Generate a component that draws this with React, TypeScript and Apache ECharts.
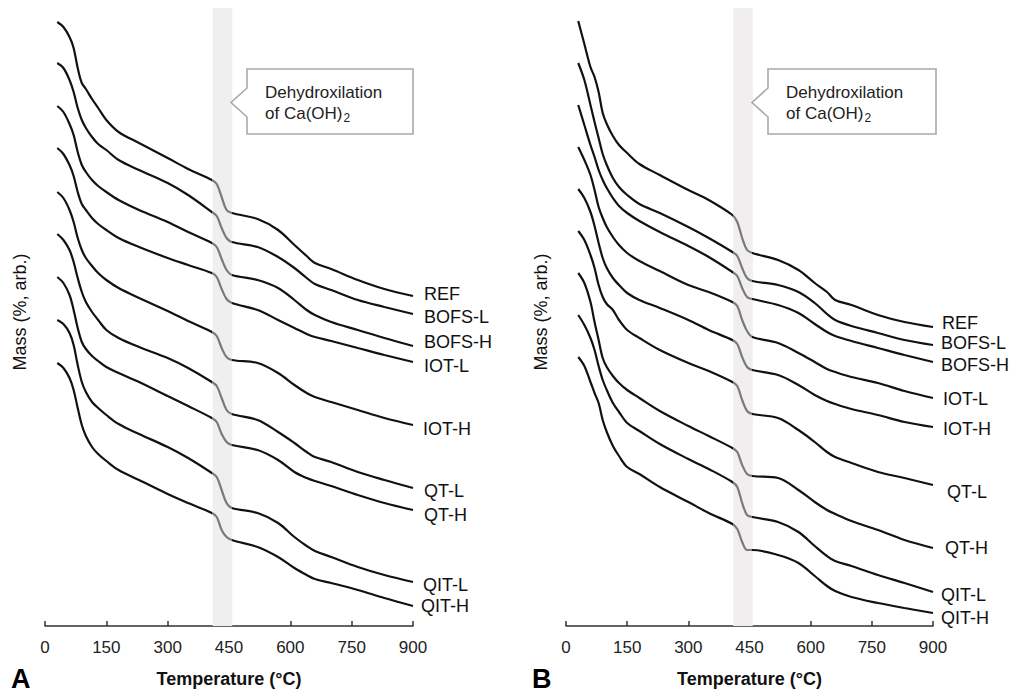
import React, { useEffect, useRef } from "react";
import * as echarts from "echarts";

// Temperature grid (°C) shared by every curve
const TEMPS = [30, 45, 60, 70, 80, 90, 100, 115, 130, 150, 180, 230, 300, 350, 408, 420, 432, 444, 457, 520, 570, 610, 640, 660, 700, 765, 830, 900];
const X_TICKS = [0, 150, 300, 450, 600, 750, 900];
const NAMES = ["REF", "BOFS-L", "BOFS-H", "IOT-L", "IOT-H", "QT-L", "QT-H", "QIT-L", "QIT-H"];
const BAND = [410, 458];

// Panel A — mass (arbitrary, vertically offset units)
const A_REF = [604, 599, 589, 578, 558, 543, 537, 527, 518, 506, 494, 483, 468, 457, 446, 442, 429, 416, 413, 407, 396, 381, 370, 363, 357, 346, 337, 330];
const A_BOFS_L = [563, 558, 546, 534, 518, 506, 498, 489, 482, 476, 466, 456, 443, 431, 414, 410, 398, 388, 384, 379, 369, 358, 348, 342, 336, 326, 319, 312];
const A_BOFS_H = [520, 514, 502, 491, 474, 461, 454, 446, 440, 434, 426, 416, 404, 394, 383, 379, 367, 356, 351, 346, 338, 326, 316, 311, 304, 296, 288, 280];
const A_IOT_L = [478, 472, 461, 450, 434, 422, 416, 408, 402, 396, 388, 379, 368, 361, 353, 349, 337, 327, 323, 316, 306, 298, 292, 289, 285, 278, 271, 264];
const A_IOT_H = [434, 428, 416, 404, 388, 376, 368, 360, 353, 346, 338, 328, 315, 305, 294, 290, 278, 269, 266, 263, 253, 241, 233, 229, 224, 216, 208, 201];
const A_QT_L = [392, 386, 376, 364, 348, 334, 324, 314, 306, 296, 288, 279, 268, 258, 244, 240, 228, 216, 212, 206, 194, 183, 174, 169, 164, 154, 146, 138];
const A_QT_H = [349, 343, 331, 316, 298, 284, 277, 270, 265, 259, 253, 244, 230, 220, 208, 204, 192, 184, 181, 176, 166, 154, 148, 145, 140, 131, 123, 116];
const A_QIT_L = [306, 302, 293, 281, 261, 244, 234, 224, 218, 211, 202, 192, 179, 168, 153, 149, 136, 123, 118, 113, 103, 89, 80, 75, 69, 59, 51, 44];
const A_QIT_H = [263, 258, 248, 236, 218, 201, 190, 179, 172, 165, 156, 146, 132, 123, 113, 109, 96, 89, 86, 79, 69, 58, 51, 47, 43, 36, 28, 20];

// Panel B
const B_REF = [605, 582, 559, 549, 534, 513, 502, 490, 481, 473, 462, 451, 436, 426, 411, 404, 388, 376, 373, 366, 356, 343, 334, 326, 321, 311, 304, 299];
const B_BOFS_L = [563, 546, 521, 504, 488, 472, 461, 448, 439, 431, 422, 413, 399, 388, 374, 370, 358, 348, 345, 341, 334, 323, 312, 306, 300, 293, 286, 281];
const B_BOFS_H = [521, 501, 481, 469, 456, 446, 438, 428, 420, 413, 405, 394, 380, 369, 354, 350, 338, 329, 327, 321, 313, 302, 294, 290, 285, 278, 271, 264];
const B_IOT_L = [479, 466, 451, 436, 419, 408, 399, 389, 381, 373, 365, 355, 341, 334, 324, 320, 306, 295, 289, 283, 273, 264, 257, 254, 249, 243, 235, 228];
const B_IOT_H = [437, 428, 414, 400, 383, 368, 358, 348, 341, 333, 326, 318, 306, 296, 286, 282, 269, 259, 256, 251, 241, 231, 225, 222, 217, 211, 204, 199];
const B_QT_L = [395, 386, 371, 358, 341, 329, 322, 316, 306, 296, 288, 276, 263, 255, 244, 240, 226, 215, 212, 208, 196, 184, 174, 169, 163, 154, 148, 141];
const B_QT_H = [353, 343, 324, 304, 286, 268, 259, 250, 243, 236, 228, 215, 200, 190, 178, 174, 161, 152, 150, 148, 136, 124, 116, 112, 105, 96, 86, 78];
const B_QIT_L = [311, 301, 288, 276, 260, 246, 236, 223, 214, 203, 195, 182, 167, 157, 144, 139, 123, 111, 109, 104, 94, 80, 70, 65, 60, 51, 43, 34];
const B_QIT_H = [269, 260, 244, 233, 223, 206, 194, 180, 170, 159, 152, 139, 124, 113, 102, 97, 84, 76, 76, 71, 63, 50, 40, 35, 29, 23, 18, 13];

const PANEL_A = [A_REF, A_BOFS_L, A_BOFS_H, A_IOT_L, A_IOT_H, A_QT_L, A_QT_H, A_QIT_L, A_QIT_H];
const PANEL_B = [B_REF, B_BOFS_L, B_BOFS_H, B_IOT_L, B_IOT_H, B_QT_L, B_QT_H, B_QIT_L, B_QIT_H];

// label placement (style, not data)
const LABEL_OFF_A: [number, number][] = [[11, -2], [11, 3], [11, -4], [11, 4], [10, 4], [11, 3], [11, 5], [10, 3], [8, 0]];
const LABEL_OFF_B: [number, number][] = [[9, -4], [8, -2], [8, 3], [10, 1], [10, 2], [14, 7], [12, 0], [8, 3], [8, 5]];

const FONT = "'Liberation Sans', Arial, Helvetica, sans-serif";
const INK = "#111";

export default function App() {
  const ref = useRef<HTMLDivElement>(null);

  useEffect(() => {
    if (!ref.current) return;
    const chart = echarts.init(ref.current, undefined, { renderer: "svg" });

    const makeSeries = (panel: number[][], idx: number, offs: [number, number][]) =>
      panel.map((vals, i) => ({
        type: "line",
        name: NAMES[i],
        xAxisIndex: idx,
        yAxisIndex: idx,
        data: TEMPS.map((t, k) => [t, vals[k]]),
        symbol: "none",
        showSymbol: false,
        smooth: 0.35,
        silent: true,
        z: 3,
        lineStyle: { width: 2.2 },
        endLabel: {
          show: true,
          formatter: "{a}",
          distance: 0,
          offset: offs[i],
          color: INK,
          fontSize: 18,
          fontFamily: FONT,
        },
      }));

    const bandSeries = (idx: number) => ({
      type: "line",
      xAxisIndex: idx,
      yAxisIndex: idx,
      data: [],
      silent: true,
      z: 1,
      markArea: {
        silent: true,
        itemStyle: { color: "#f0eeef" },
        data: [[{ xAxis: BAND[0] }, { xAxis: BAND[1] }]],
      },
    });

    const xAxis = (idx: number) => ({
      type: "value",
      gridIndex: idx,
      min: X_TICKS[0],
      max: X_TICKS[X_TICKS.length - 1],
      interval: 150,
      name: "Temperature (°C)",
      nameLocation: "middle",
      nameGap: 44,
      nameTextStyle: { fontSize: 18, fontWeight: "bold", color: INK, fontFamily: FONT },
      axisLine: { lineStyle: { color: "#333", width: 1.5 } },
      axisTick: { inside: true, length: 5, lineStyle: { color: "#333", width: 1.5 } },
      axisLabel: { fontSize: 17, color: "#222", margin: 13, fontFamily: FONT },
      splitLine: { show: false },
    });

    const yAxis = (idx: number) => ({
      type: "value",
      gridIndex: idx,
      min: 0,
      max: 618,
      show: false,
    });

    const seriesA = makeSeries(PANEL_A, 0, LABEL_OFF_A);
    const seriesB = makeSeries(PANEL_B, 1, LABEL_OFF_B);
    const curveIdx = [...seriesA, ...seriesB].map((_, i) => i + 2);

    const callout = (left: number, right: number, tip: number, textX: number) => [
      {
        type: "polygon",
        shape: {
          points: [
            [left, 69], [right, 69], [right, 134], [left, 134],
            [left, 117], [tip, 102.5], [left, 88],
          ],
        },
        style: { fill: "#fff", stroke: "#a9a9a9", lineWidth: 1.6 },
        z: 10,
      },
      {
        type: "text",
        x: textX,
        y: 92,
        style: { text: "Dehydroxilation", fontSize: 17, fill: "#222", fontFamily: FONT, align: "left", verticalAlign: "middle" },
        z: 11,
      },
      {
        type: "text",
        x: textX,
        y: 113,
        style: {
          text: "{a|of Ca(OH)}{b|2}",
          fill: "#222",
          fontFamily: FONT,
          align: "left",
          verticalAlign: "middle",
          rich: {
            a: { fontSize: 17, fontFamily: FONT, fill: "#222" },
            b: { fontSize: 12, fontFamily: FONT, fill: "#222", padding: [9, 0, 0, 1] },
          },
        },
        z: 11,
      },
    ];

    const option = {
      animation: false,
      backgroundColor: "#fff",
      grid: [
        { left: 45, top: 8, width: 368, height: 618 },
        { left: 566, top: 8, width: 367, height: 618 },
      ],
      xAxis: [xAxis(0), xAxis(1)],
      yAxis: [yAxis(0), yAxis(1)],
      visualMap: {
        type: "piecewise",
        show: false,
        dimension: 0,
        seriesIndex: curveIdx,
        pieces: [
          { lt: 409, color: INK },
          { gte: 409, lte: 457, color: "#7a7a7a" },
          { gt: 457, color: INK },
        ],
      },
      series: [bandSeries(0), bandSeries(1), ...seriesA, ...seriesB],
      graphic: [
        ...callout(247, 413, 231, 265),
        ...callout(768, 936, 752, 786),
        {
          type: "text", x: 20, y: 312, rotation: Math.PI / 2,
          style: { text: "Mass (%, arb.)", fontSize: 18, fill: INK, fontFamily: FONT, align: "center", verticalAlign: "middle" },
        },
        {
          type: "text", x: 541, y: 312, rotation: Math.PI / 2,
          style: { text: "Mass (%, arb.)", fontSize: 18, fill: INK, fontFamily: FONT, align: "center", verticalAlign: "middle" },
        },
        {
          type: "text", x: 11, y: 679,
          style: { text: "A", fontSize: 27, fontWeight: "bold", fill: "#000", fontFamily: FONT, align: "left", verticalAlign: "middle" },
        },
        {
          type: "text", x: 532, y: 679,
          style: { text: "B", fontSize: 27, fontWeight: "bold", fill: "#000", fontFamily: FONT, align: "left", verticalAlign: "middle" },
        },
      ],
    };

    chart.setOption(option as any);
    return () => chart.dispose();
  }, []);

  return (
    <div
      ref={ref}
      style={{ position: "absolute", left: 0, top: 0, width: 1014, height: 695, background: "#fff" }}
    />
  );
}
